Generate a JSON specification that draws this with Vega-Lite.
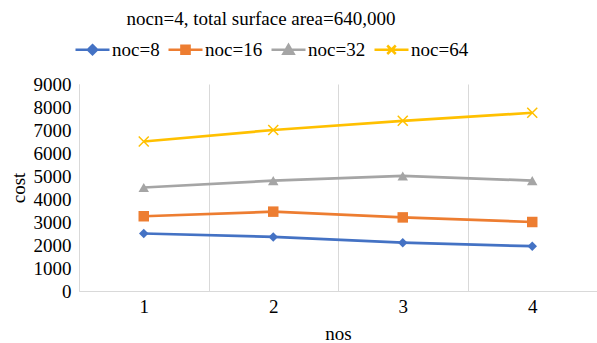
{
  "$schema": "https://vega.github.io/schema/vega-lite/v6.json",
  "autosize": {"type": "none"},
  "width": 518,
  "height": 207,
  "padding": {"left": 79, "top": 84, "right": 0, "bottom": 52},
  "background": "white",
  "config": {
    "font": "Liberation Serif, serif",
    "view": {"stroke": null},
    "axis": {"labelFont": "Liberation Serif, serif", "titleFont": "Liberation Serif, serif", "labelFontSize": 19, "titleFontSize": 19, "titleFontWeight": "normal", "labelColor": "#000", "titleColor": "#000", "domainColor": "#d9d9d9", "gridColor": "#d9d9d9", "ticks": false},
    "legend": {"labelFont": "Liberation Serif, serif", "labelFontSize": 19, "labelColor": "#000"}
  },
  "title": {"text": "nocn=4, total surface area=640,000", "font": "Liberation Serif, serif", "fontSize": 19, "fontWeight": "normal", "color": "#000", "anchor": "middle", "dx": -77, "offset": 2},
  "data": {"values": [
    {"nos": "1", "series": "noc=8", "cost": 2500},
    {"nos": "2", "series": "noc=8", "cost": 2350},
    {"nos": "3", "series": "noc=8", "cost": 2100},
    {"nos": "4", "series": "noc=8", "cost": 1950},
    {"nos": "1", "series": "noc=16", "cost": 3250},
    {"nos": "2", "series": "noc=16", "cost": 3450},
    {"nos": "3", "series": "noc=16", "cost": 3200},
    {"nos": "4", "series": "noc=16", "cost": 3000},
    {"nos": "1", "series": "noc=32", "cost": 4500},
    {"nos": "2", "series": "noc=32", "cost": 4800},
    {"nos": "3", "series": "noc=32", "cost": 5000},
    {"nos": "4", "series": "noc=32", "cost": 4800},
    {"nos": "1", "series": "noc=64", "cost": 6500},
    {"nos": "2", "series": "noc=64", "cost": 7000},
    {"nos": "3", "series": "noc=64", "cost": 7400},
    {"nos": "4", "series": "noc=64", "cost": 7750}
  ]},
  "encoding": {
    "x": {"field": "nos", "type": "ordinal", "title": "nos",
      "scale": {"type": "band", "paddingInner": 0, "paddingOuter": 0},
      "axis": {"labelAngle": 0, "grid": true, "tickBand": "extent", "labelPadding": 6, "titlePadding": 8}},
    "y": {"field": "cost", "type": "quantitative", "title": "cost",
      "scale": {"domain": [0, 9000], "nice": false},
      "axis": {"values": [0,1000,2000,3000,4000,5000,6000,7000,8000,9000], "format": "d", "grid": false, "labelPadding": 8, "titlePadding": 5}},
    "color": {"field": "series", "type": "nominal",
      "scale": {"domain": ["noc=8", "noc=16", "noc=32", "noc=64"], "range": ["#4472C4", "#ED7D31", "#A5A5A5", "#FFC000"]}}
  },
  "layer": [
    {
      "mark": {"type": "line", "strokeWidth": 2.75},
      "encoding": {
        "color": {"field": "series", "type": "nominal",
          "legend": {"orient": "none", "legendX": -5, "legendY": -53, "direction": "horizontal", "title": null,
            "labelFontSize": 19,
            "symbolSize": 1156, "labelOffset": 1, "columnPadding": 3, "symbolStrokeWidth": 2.5,
            "encode": {"symbols": {"update": {
              "shape": {"signal": "datum.label === 'noc=8' ? 'M-1,0H1M0,-0.27L0.27,0L0,0.27L-0.27,0Z' : datum.label === 'noc=16' ? 'M-1,0H1M-0.24,-0.24H0.24V0.24H-0.24Z' : datum.label === 'noc=32' ? 'M-1,0H1M-0.3,0.24L0,-0.28L0.3,0.24Z' : 'M-1,0H1M-0.25,-0.25L0.25,0.25M0.25,-0.25L-0.25,0.25'"},
              "fill": {"signal": "datum.label === 'noc=64' ? 'transparent' : scale('color', datum.value)"},
              "stroke": {"signal": "scale('color', datum.value)"},
              "strokeWidth": {"value": 2.5},
              "opacity": {"value": 1}
            }}}}
        }
      }
    },
    {
      "transform": [{"filter": "datum.series === 'noc=8'"}],
      "mark": {"type": "point", "filled": true, "size": 90, "shape": "diamond", "opacity": 1},
      "encoding": {"color": {"field": "series", "type": "nominal", "legend": null}}
    },
    {
      "transform": [{"filter": "datum.series === 'noc=16'"}],
      "mark": {"type": "point", "filled": true, "size": 110, "shape": "square", "opacity": 1},
      "encoding": {"color": {"field": "series", "type": "nominal", "legend": null}}
    },
    {
      "transform": [{"filter": "datum.series === 'noc=32'"}],
      "mark": {"type": "point", "filled": true, "size": 110, "shape": "triangle-up", "opacity": 1},
      "encoding": {"color": {"field": "series", "type": "nominal", "legend": null}}
    },
    {
      "transform": [{"filter": "datum.series === 'noc=64'"}],
      "mark": {"type": "point", "filled": false, "size": 100, "strokeWidth": 1.5, "shape": "M-1,-1L1,1M1,-1L-1,1", "opacity": 1},
      "encoding": {"color": {"field": "series", "type": "nominal", "legend": null}}
    }
  ]
}
